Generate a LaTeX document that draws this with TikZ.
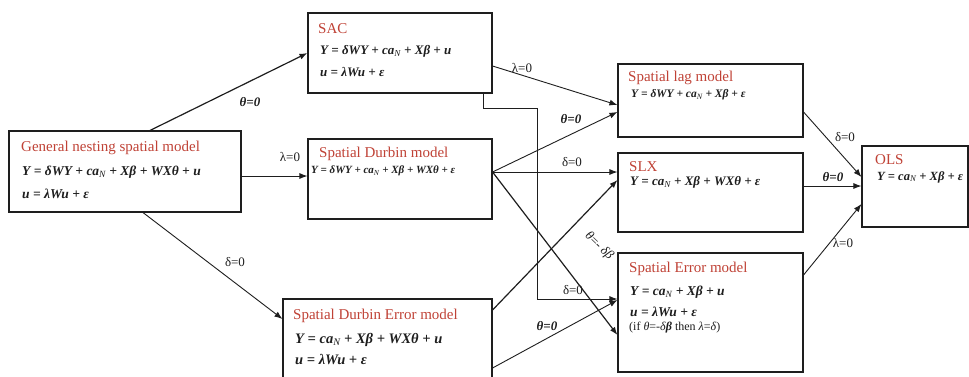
\documentclass[tikz,border=0pt]{standalone}
\usepackage{fontspec}
\setmainfont{Liberation Serif}
\usetikzlibrary{arrows.meta}
\definecolor{ttl}{RGB}{192,66,54}
\definecolor{ink}{RGB}{30,30,30}
\newcommand\bi[1]{{\bfseries\itshape #1}}
\newcommand\subN{\textsubscript{\normalfont\itshape N}}
\newcommand\fs[1]{\fontsize{#1}{#1}\selectfont}
\begin{document}
\begin{tikzpicture}[x=1pt,y=-1pt,
 box/.style={draw=ink,line width=1.1pt,rectangle,inner sep=0pt},
 ttlstyle/.style={anchor=west,inner sep=0pt,text=ttl,font=\fs{15}},
 eqt/.style={anchor=west,inner sep=0pt,text=ink},
 conn/.style={draw=ink,line width=0.9pt,-{Latex[length=8pt,width=6pt]}},
 lbl/.style={inner sep=0pt,text=ink,font=\fs{13}}]
\useasboundingbox (0,0) rectangle (969,376);
\fill[white] (0,0) rectangle (969,376);

% boxes
\node[box,minimum width=232pt,minimum height=81pt] (gns) at (125,171.5) {};
\node[box,minimum width=184pt,minimum height=80pt] (sac) at (400,53) {};
\node[box,minimum width=184pt,minimum height=80pt] (sdm) at (400,179) {};
\node[box,minimum width=209pt,minimum height=79pt] (sdem) at (387.5,338.5) {};
\node[box,minimum width=185pt,minimum height=73pt] (lag) at (710.5,100.5) {};
\node[box,minimum width=185pt,minimum height=79pt] (slx) at (710.5,192.5) {};
\node[box,minimum width=185pt,minimum height=119pt] (se) at (710.5,312.5) {};
\node[box,minimum width=106pt,minimum height=81pt] (ols) at (915,186.5) {};

% texts
\node[ttlstyle] (gnsT) at (21,148) {General nesting spatial model};
\node[eqt,font=\fs{13.5}] (gnsE1) at (22,172) {\bi{Y = δWY + ca\subN{} + Xβ + WXθ + u}};
\node[eqt,font=\fs{13.5}] (gnsE2) at (22,194) {\bi{u = λWu + ε}};

\node[ttlstyle] (sacT) at (318,29) {SAC};
\node[eqt,font=\fs{13}] (sacE1) at (320,51) {\bi{Y = δWY + ca\subN{} + Xβ + u}};
\node[eqt,font=\fs{13}] (sacE2) at (320,72) {\bi{u = λWu + ε}};

\node[ttlstyle] (sdmT) at (319,154) {Spatial Durbin model};
\node[eqt,font=\fs{11}] (sdmE) at (311,171) {\bi{Y = δWY + ca\subN{} + Xβ + WXθ + ε}};

\node[ttlstyle] (sdemT) at (293,316) {Spatial Durbin Error model};
\node[eqt,font=\fs{14.5}] (sdemE1) at (295,340) {\bi{Y = ca\subN{} + Xβ + WXθ + u}};
\node[eqt,font=\fs{14.5}] (sdemE2) at (295,359) {\bi{u = λWu + ε}};

\node[ttlstyle] (lagT) at (628,78) {Spatial lag model};
\node[eqt,font=\fs{11.5}] (lagE) at (631,95) {\bi{Y = δWY + ca\subN{} + Xβ + ε}};

\node[ttlstyle] (slxT) at (629,167) {SLX};
\node[eqt,font=\fs{13}] (slxE) at (630,182) {\bi{Y = ca\subN{} + Xβ + WXθ + ε}};

\node[ttlstyle] (seT) at (629,269) {Spatial Error model};
\node[eqt,font=\fs{13.5}] (seE1) at (630,292) {\bi{Y = ca\subN{} + Xβ + u}};
\node[eqt,font=\fs{13.5}] (seE2) at (630,312) {\bi{u = λWu + ε}};
\node[eqt,font=\fs{12}] (seE3) at (629,328) {(if \textit{θ}=-\textit{δ}\textbf{\textit{β}} then \textit{λ}=\textit{δ})};

\node[ttlstyle] (olsT) at (875,160) {OLS};
\node[eqt,font=\fs{12.5}] (olsE) at (877,177) {\bi{Y = ca\subN{} + Xβ + ε}};

% connectors
\draw[conn,line width=1.2pt] ([xshift=25pt]gns.north) -- (sac.west);
\draw[conn] ([yshift=-4.5pt]gns.east) -- ([yshift=-4.5pt]gns.east -| sdm.west);
\draw[conn] ([xshift=18pt]gns.south) -- ([yshift=19.5pt]sdem.west);

\draw[conn] ([yshift=-13pt]sac.east) -- ([yshift=-4.5pt]lag.west);
\draw[conn] ([xshift=-9pt]sac.south east) -- ++(0,15) -- ++(54,0) |- ([yshift=13.5pt]se.west);

\draw[conn] ([yshift=7pt]sdm.east) -- ([yshift=-11.5pt]lag.west);
\draw[conn] ([yshift=7pt]sdm.east) -- ([yshift=7pt]sdm.east -| slx.west);
\draw[conn,line width=1.2pt] ([yshift=7pt]sdm.east) -- ([yshift=-22.5pt]se.west);

\draw[conn,line width=1.2pt] ([yshift=28.5pt]sdem.east) -- ([yshift=12.5pt]slx.west);
\draw[conn] ([yshift=-29.5pt]sdem.east) -- ([yshift=12.5pt]se.west);

\draw[conn] ([yshift=-11.5pt]lag.east) -- ([yshift=9.5pt]ols.west);
\draw[conn] ([yshift=6.5pt]slx.east) -- ([yshift=6.5pt]slx.east -| ols.west);
\draw[conn] ([yshift=37.5pt]se.east) -- ([yshift=-17.5pt]ols.west);

% labels
\node[lbl,font=\fs{13}\bfseries\itshape] (l1) at (250,102) {θ=0};
\node[lbl] (l2) at (290,157) {λ=0};
\node[lbl] (l3) at (235,262) {δ=0};
\node[lbl] (l4) at (522,68) {λ=0};
\node[lbl,font=\fs{13}\bfseries\itshape] (l5) at (571,119) {θ=0};
\node[lbl] (l6) at (572,162) {δ=0};
\node[lbl,rotate=-43.6] (l7) at (599,246) {\textit{θ}=- \textit{δβ}};
\node[lbl] (l8) at (573,290) {δ=0};
\node[lbl,font=\fs{13}\bfseries\itshape] (l9) at (547,326) {θ=0};
\node[lbl] (l10) at (845,137) {δ=0};
\node[lbl,font=\fs{13}\bfseries\itshape] (l11) at (833,177) {θ=0};
\node[lbl] (l12) at (843,243) {λ=0};
\end{tikzpicture}
\end{document}
